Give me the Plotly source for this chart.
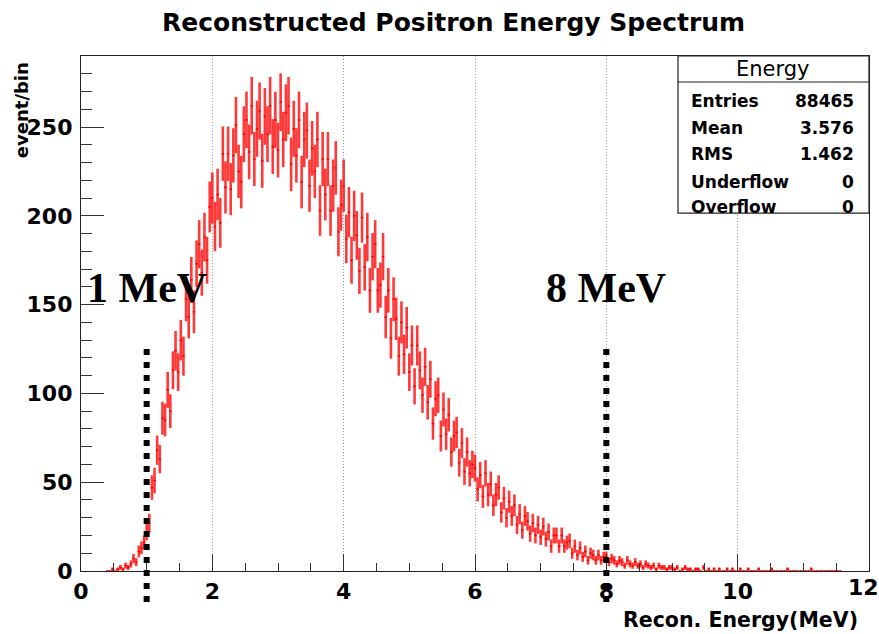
import math
import plotly.graph_objects as go

# ---------------- data ----------------
BIN_START = 0.40      # MeV, centre of first sampled bin
BIN_STEP = 0.04       # MeV between sampled bins
counts = (
    # 0.40 - 0.96
    [0, 0, 1, 0, 1, 2, 1, 3, 2, 4, 7, 5, 11, 13, 16]
    # 1.00 - 1.96
    + [22, 27, 47, 51, 68, 63, 86, 85, 102, 90, 113, 124, 112, 130, 121, 153, 143, 164, 146, 173, 184, 168, 188, 175, 205]
    # 2.00 - 2.96
    + [210, 194, 212, 196, 235, 216, 235, 215, 234, 251, 225, 219, 246, 254, 236, 262, 232, 249, 259, 231, 256, 246, 262, 239, 254]
    # 3.00 - 3.96
    + [237, 264, 243, 258, 262, 229, 249, 234, 254, 219, 243, 248, 217, 238, 225, 243, 203, 232, 212, 232, 203, 217, 227, 191, 206]
    # 4.00 - 4.96
    + [217, 187, 202, 175, 200, 189, 169, 199, 171, 188, 158, 177, 184, 158, 161, 177, 143, 158, 131, 153, 142, 121, 140, 122, 137]
    # 5.00 - 5.96
    + [112, 127, 104, 127, 113, 99, 115, 95, 108, 83, 97, 99, 76, 91, 77, 88, 67, 76, 78, 61, 72, 56, 67, 55, 60]
    # 6.00 - 6.96
    + [58, 46, 54, 42, 55, 43, 49, 37, 43, 47, 33, 41, 30, 39, 31, 37, 26, 32, 23, 31, 28, 21, 27, 20, 26]
    # 7.00 - 7.96
    + [19, 25, 18, 22, 14, 20, 20, 14, 20, 14, 16, 17, 10, 14, 9, 13, 8, 11, 6, 10, 9, 6, 9, 6, 8]
    # 8.00 - 8.96
    + [8, 5, 7, 6, 4, 6, 5, 3, 6, 4, 3, 5, 3, 4, 2, 4, 3, 2, 3, 1, 3, 2, 2, 1, 2]
    # 9.00 - 9.96
    + [2, 1, 2, 0, 1, 2, 1, 1, 0, 1, 1, 0, 2, 0, 1, 0, 1, 0, 1, 0, 0, 1, 0, 1, 0]
    # 10.00 - 10.96
    + [0, 1, 0, 0, 1, 0, 0, 0, 1, 0, 0, 0, 0, 1, 0, 0, 0, 0, 0, 1, 0, 0, 0, 0, 0]
    # 11.00 - 11.56
    + [0, 0, 0, 1, 0, 0, 0, 0, 0, 0, 0, 0, 0, 0, 0]
)
energies = [BIN_START + BIN_STEP * i for i in range(len(counts))]
errors = [math.sqrt(c) for c in counts]

STAT_TITLE = "Energy"
STAT_NAMES = ["Entries", "Mean", "RMS", "Underflow", "Overflow"]
STAT_VALUES = ["88465", "3.576", "1.462", "0", "0"]

CUT_ENERGIES = [1, 8]
CUT_LABELS = ["1 MeV", "8 MeV"]

X_TICKS = [0, 2, 4, 6, 8, 10, 12]
Y_TICKS = [0, 50, 100, 150, 200, 250]

# ---------------- figure ----------------
RED = "rgba(255,0,0,0.78)"
SANS = "DejaVu Sans"

fig = go.Figure()
fig.add_trace(go.Scatter(
    x=energies, y=counts, mode="markers",
    marker=dict(size=2, color="red"),
    error_y=dict(type="data", array=errors, width=0, thickness=2.6, color=RED),
    error_x=dict(type="constant", value=BIN_STEP / 2, width=0, thickness=1.2, color=RED),
    showlegend=False, hoverinfo="skip",
))

fig.update_layout(
    width=879, height=634,
    margin=dict(l=81, r=10, t=56, b=63),
    paper_bgcolor="white", plot_bgcolor="white",
    title=dict(text="<b>Reconstructed Positron Energy Spectrum</b>",
               x=0.516, xanchor="center", y=0.965, yanchor="middle",
               font=dict(family=SANS, size=25, color="black")),
)

fig.update_xaxes(
    range=[0, 12], tickvals=X_TICKS, ticktext=[f"<b>{v}</b>" for v in X_TICKS],
    ticks="inside", ticklen=17, tickcolor="#333", tickwidth=1,
    minor=dict(dtick=0.5, ticks="inside", ticklen=8, tickcolor="#333", showgrid=False),
    showline=True, linecolor="#222", linewidth=1.2, mirror=True,
    showgrid=True, gridcolor="#999", griddash="1px,2px", gridwidth=1,
    zeroline=False,
    tickfont=dict(family=SANS, size=22, color="black"),
)
fig.update_yaxes(
    range=[0, 290], tickvals=Y_TICKS, ticktext=[f"<b>{v}</b>" for v in Y_TICKS],
    ticks="inside", ticklen=23, tickcolor="#333", tickwidth=1,
    minor=dict(dtick=10, ticks="inside", ticklen=11, tickcolor="#333", showgrid=False),
    showline=True, linecolor="#222", linewidth=1.2, mirror=True,
    showgrid=False, zeroline=False, ticklabelstandoff=3,
    tickfont=dict(family=SANS, size=22, color="black"),
)

# last x tick label, kept just inside the page edge
fig.add_annotation(text=f"<b>{X_TICKS[-1]}</b>", xref="x", yref="paper", x=X_TICKS[-1], y=-0.032,
                   xanchor="center", yanchor="middle", xshift=-6, showarrow=False,
                   font=dict(family=SANS, size=22, color="black"))

# axis titles
fig.add_annotation(text="<b>event/bin</b>", textangle=-90, xref="paper", yref="paper",
                   x=-0.076, y=0.895, xanchor="center", yanchor="middle", showarrow=False,
                   font=dict(family=SANS, size=18, color="black"))
fig.add_annotation(text="<b>Recon. Energy(MeV)</b>", xref="paper", yref="paper",
                   x=0.9886, y=-0.095, xanchor="right", yanchor="middle", showarrow=False,
                   font=dict(family=SANS, size=20.5, color="black"))

# cut lines and labels
for e, lab in zip(CUT_ENERGIES, CUT_LABELS):
    fig.add_shape(type="line", xref="x", yref="paper", x0=e, x1=e, y0=-0.06, y1=0.44,
                  line=dict(color="black", width=6, dash="6px,7px"), layer="above")
    fig.add_annotation(text=f"<b>{lab}</b>", xref="x", yref="paper", x=e, y=0.55,
                       xanchor="center", yanchor="middle", showarrow=False,
                       font=dict(family="Liberation Serif", size=42, color="black"))

# stats box
BX0, BX1, BY0, BY1, BHL = 0.7576, 1.0, 0.695, 1.0, 0.9495
fig.add_shape(type="rect", xref="paper", yref="paper", x0=BX0, x1=BX1, y0=BY0, y1=BY1,
              fillcolor="white", line=dict(color="#222", width=1.2), layer="above")
fig.add_shape(type="line", xref="paper", yref="paper", x0=BX0, x1=BX1, y0=BHL, y1=BHL,
              line=dict(color="#222", width=1.2), layer="above")
fig.add_annotation(text=STAT_TITLE, xref="paper", yref="paper", x=(BX0 + BX1) / 2, y=0.975,
                   xanchor="center", yanchor="middle", showarrow=False,
                   font=dict(family=SANS, size=21, color="black"))
row_y = [0.913, 0.861, 0.810, 0.756, 0.707]
for name, val, yy in zip(STAT_NAMES, STAT_VALUES, row_y):
    fig.add_annotation(text=f"<b>{name}</b>", xref="paper", yref="paper", x=0.7716, y=yy,
                       xanchor="left", yanchor="middle", showarrow=False,
                       font=dict(family=SANS, size=17, color="black"))
    fig.add_annotation(text=f"<b>{val}</b>", xref="paper", yref="paper", x=0.983, y=yy,
                       xanchor="right", yanchor="middle", showarrow=False,
                       font=dict(family=SANS, size=17, color="black"))

fig.write_html("out.html")
